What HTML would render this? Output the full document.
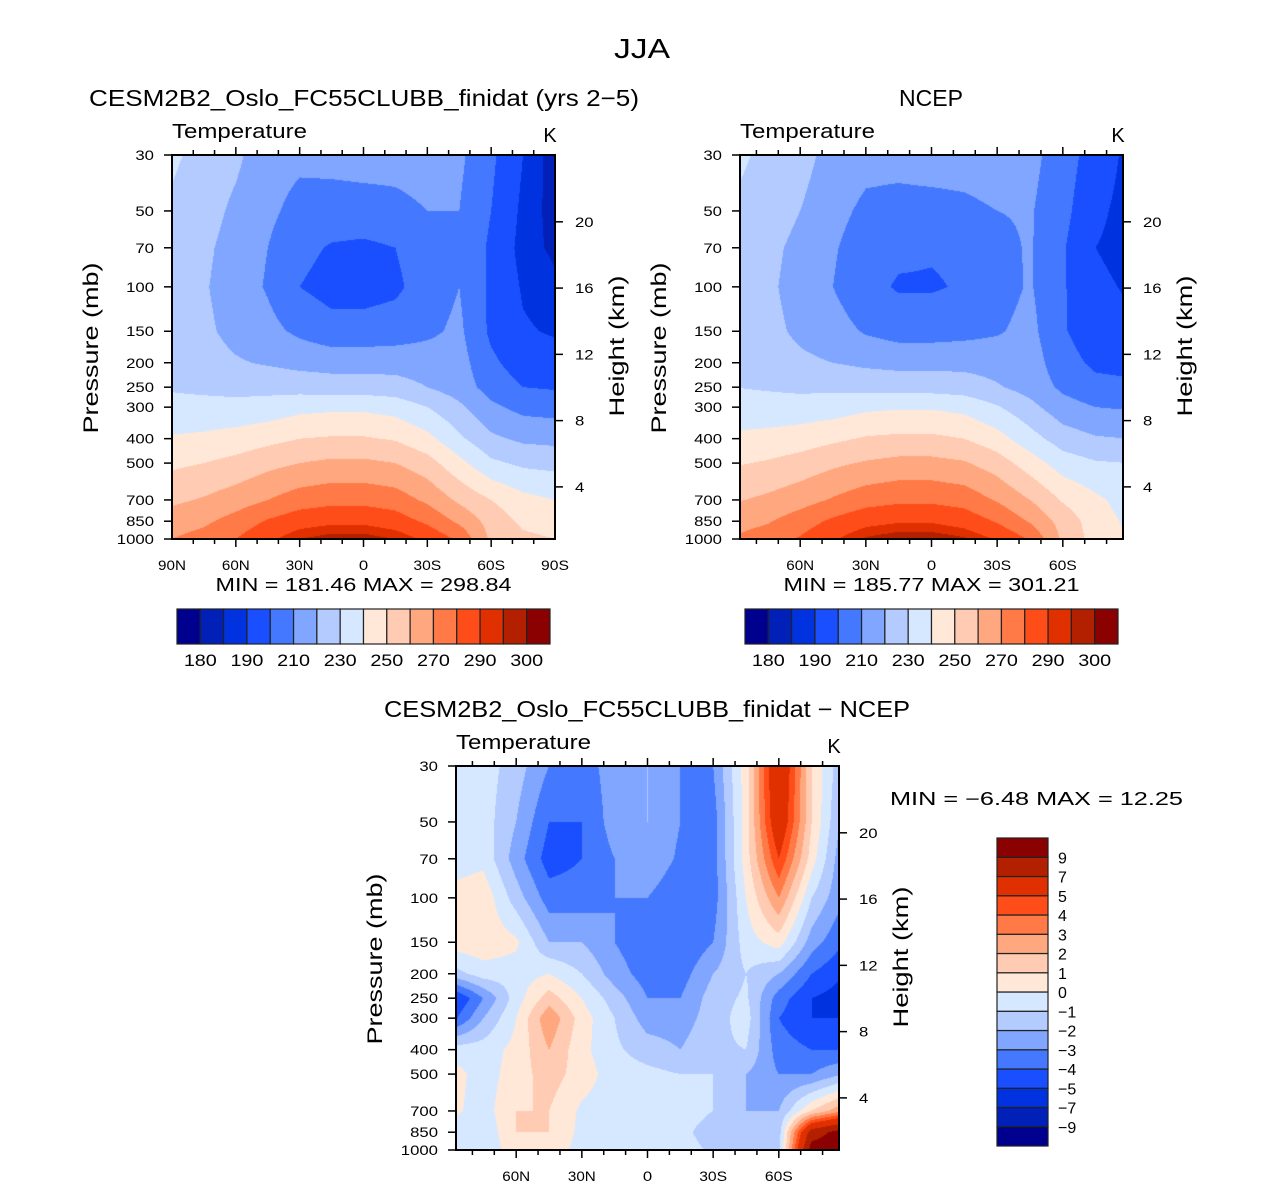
<!DOCTYPE html>
<html><head><meta charset="utf-8"><style>
html,body{margin:0;padding:0;background:#fff;width:1285px;height:1188px;overflow:hidden}
#wrap{position:relative;width:1285px;height:1188px}
canvas{position:absolute}
svg{position:absolute;left:0;top:0}
text{font-family:"Liberation Sans",sans-serif;fill:#000}
</style></head><body><div id="wrap">
<canvas id="c1" width="383" height="384" style="left:172px;top:155px"></canvas>
<canvas id="c2" width="383" height="384" style="left:740px;top:155px"></canvas>
<canvas id="c3" width="383" height="384" style="left:456px;top:766px"></canvas>
<svg id="s" width="1285" height="1188"></svg>
</div>
<script>
const lats=[90,75,60,45,30,15,0,-15,-30,-45,-60,-75,-90];
const levels=[30,50,70,100,150,200,250,300,400,500,700,850,1000];
const modelT=[
[232,226,222,214,212,213,214,214,215,212,202,190,182],
[228,224,218,212,207,206,206,207,210,210,200,188,183],
[226,222,216,210,203,199,198,200,206,210,198,187,184],
[225,221,215,209,200,196,196,198,205,210,198,189,186],
[225,222,217,213,208,204,204,205,208,212,198,191,189],
[226,224,221,219,217,216,216,216,215,214,202,195,194],
[229,228,227,227,226,225,225,224,220,215,206,200,199],
[233,233,233,234,237,238,238,236,230,222,212,207,206],
[241,242,244,247,250,251,251,249,243,232,222,218,217],
[248,250,253,257,260,262,262,260,254,243,232,228,227],
[258,261,265,270,275,277,277,275,268,258,250,243,240],
[265,268,274,281,286,288,288,285,278,268,256,248,246],
[270,274,280,288,295,298,298,295,288,278,258,252,250]];
const ncepT=[
[232,228,224,216,213,213,214,214,215,213,205,195,188],
[229,226,220,213,208,207,207,208,210,211,203,192,187],
[227,223,217,211,205,202,201,202,207,211,201,190,187],
[226,222,216,210,203,199,199,201,206,211,201,192,189],
[226,223,218,214,209,206,206,207,209,213,201,194,192],
[227,225,222,220,218,217,217,217,216,215,204,198,197],
[230,229,228,228,227,226,226,225,221,216,208,203,202],
[234,234,234,235,238,239,239,237,231,223,214,210,209],
[242,243,245,248,251,252,252,250,244,234,225,221,220],
[249,251,254,258,261,263,263,261,255,245,235,231,230],
[259,262,266,271,276,278,278,276,269,260,249,242,236],
[266,269,275,282,287,289,289,286,279,269,256,245,238],
[271,275,281,289,296,299,299,296,289,279,258,246,240]];
const diffT=[
[-0.5,-0.5,-1.5,-3,-3.5,-2.5,-2,-3,-3,0.5,7,1,-2],
[-0.5,-0.5,-2,-4,-4,-2.5,-2,-3,-3.5,0.5,6.5,1,-2.5],
[-0.5,-0.3,-2.5,-4.5,-4,-3,-2.2,-3.2,-3.5,0.5,5,0.5,-3],
[0.3,0.7,-1.5,-3.5,-3.5,-3,-3,-3.8,-3.5,0,3,-1,-3],
[0.5,0.7,0.2,-2,-2,-3,-3.8,-4,-3,-0.5,0.5,-2.5,-4],
[-1.5,-0.5,-0.5,0,-1,-2.5,-3.5,-3.5,-2,-1,-2,-4,-5],
[-5.5,-3,-0.5,1.5,0,-1.5,-3,-3,-1.5,-0.8,-3.5,-5,-5.5],
[-4.5,-2,0,2.8,0.5,-1,-2.5,-2.5,-1.5,-0.5,-4,-5,-5],
[-0.5,-0.5,0.3,2,0.3,-0.8,-1.5,-2,-1.2,-1,-3.5,-4,-4],
[0.5,-0.5,0.5,1.5,0.5,-0.5,-0.7,-1,-1,-2,-3,-3,-2],
[0.3,-0.5,1,1,-0.2,-0.5,-0.5,-0.5,-1,-2,-2,1,3],
[-0.5,-0.8,1,1,-0.3,-0.5,-0.5,-0.7,-1.5,-2,-1.5,8,10],
[-1,-1,0.8,0.8,-0.5,-0.7,-0.5,-0.5,-1.2,-1.5,-1.5,10,10]];
const tempLevels=[180,185,190,200,210,220,230,240,250,260,270,280,290,295,300];
const tempLabels=["180","190","210","230","250","270","290","300"];
const diffLevels=[-9,-7,-5,-4,-3,-2,-1,0,1,2,3,4,5,7,9];
const diffLabels=["−9","−7","−5","−4","−3","−2","−1","0","1","2","3","4","5","7","9"];
const colors=["#00008f","#0020b8","#0033df","#1a4fff","#4479ff","#80a6ff","#b3cbff","#d6e8ff","#ffe8d8","#ffcbb3","#ffa880","#ff7a47","#ff4d1a","#e03000","#b32000","#8b0000"];
const latTicks=[90,60,30,0,-30,-60,-90];
const latNames=["90N","60N","30N","0","30S","60S","90S"];
const heightTicks=[20,16,12,8,4];

const H=384,W=383,LP=Math.log(1000/30);
function yOfP(p){return H*Math.log(p/30)/LP;}
function xOfLat(lat,ext){return W/2-lat*(W/(2*ext));}
function rgb(h){return [parseInt(h.substr(1,2),16),parseInt(h.substr(3,2),16),parseInt(h.substr(5,2),16)];}
const rgbs=colors.map(rgb);
function bin(v,lv){let i=0;while(i<lv.length&&v>=lv[i])i++;return i;}
function sample(grid,lat,p){
  let li=0;while(li<lats.length-2&&lat<lats[li+1])li++;
  let ft=(lats[li]-lat)/(lats[li]-lats[li+1]);ft=Math.max(0,Math.min(1,ft));
  const lp=Math.log(p);let pi=0;while(pi<levels.length-2&&p>levels[pi+1])pi++;
  let fp=(lp-Math.log(levels[pi]))/(Math.log(levels[pi+1])-Math.log(levels[pi]));fp=Math.max(0,Math.min(1,fp));
  const a=grid[pi][li],b=grid[pi][li+1],c=grid[pi+1][li],d=grid[pi+1][li+1];
  return (a*(1-ft)+b*ft)*(1-fp)+(c*(1-ft)+d*ft)*fp;
}
function draw(id,grid,lv,ext){
  const ctx=document.getElementById(id).getContext('2d');const img=ctx.createImageData(W,H);
  for(let y=0;y<H;y++){const p=30*Math.exp((y+0.5)/H*LP);
    for(let x=0;x<W;x++){const lat=-((x+0.5)-W/2)*(2*ext/W);
      const c=rgbs[bin(sample(grid,lat,p),lv)];const k=(y*W+x)*4;
      img.data[k]=c[0];img.data[k+1]=c[1];img.data[k+2]=c[2];img.data[k+3]=255;}}
  ctx.putImageData(img,0,0);
}
draw('c1',modelT,tempLevels,90);
draw('c2',ncepT,tempLevels,87.5);
draw('c3',diffT,diffLevels,87.5);

const S=document.getElementById('s');const NS="http://www.w3.org/2000/svg";
function el(t,a,txt){const e=document.createElementNS(NS,t);for(const k in a)e.setAttribute(k,a[k]);if(txt!==undefined)e.textContent=txt;S.appendChild(e);return e;}
function txt(x,y,s,size,anchor,name,len){const a={x:x,y:y,'font-size':size,'text-anchor':anchor||'start'};
if(len){a.textLength=len;a.lengthAdjust='spacingAndGlyphs';}
const e=el('text',a,s);

return e;}
function line(x1,y1,x2,y2,w){return el('line',{x1:x1,y1:y1,x2:x2,y2:y2,stroke:'#000','stroke-width':w||1.5});}
function pOfH(h){return 1138*Math.exp(-h/6.61);}

txt(642,58,"JJA",28,'middle','figure-title',56);
function panel(x0,y0,ext,title,titleX,tlen,mm,mmlen,prefix,ty){
  txt(titleX,ty,title,23,'middle',prefix+'-title',tlen);
  const r=el('rect',{x:x0,y:y0,width:W,height:H,fill:'none',stroke:'#000','stroke-width':2});
  
  
  txt(x0,y0-17,"Temperature",20,'start',prefix+'-variable-label',135);
  txt(x0+W-5,y0-13,"K",20,'middle',prefix+'-units-label');
  for(let l=-80;l<=80;l+=10){if(Math.abs(l)>ext)continue;const x=x0+xOfLat(l,ext);const maj=l%30===0;
    line(x,y0,x,y0-(maj?8:5));line(x,y0+H,x,y0+H+(maj?8:5));}
  latTicks.forEach((l,i)=>{if(Math.abs(l)>ext)return;const x=x0+xOfLat(l,ext);
    txt(x,y0+H+31,latNames[i],14,'middle',prefix+'-lat-label',latNames[i].length*9.3);});
  levels.forEach(p=>{const y=y0+yOfP(p);line(x0,y,x0-8,y);const s=String(p);txt(x0-18,y+5,s,14,'end',prefix+'-pressure-label',s.length*9.3);});
  heightTicks.forEach(h=>{const y=y0+yOfP(pOfH(h));line(x0+W,y,x0+W+8,y);const s=String(h);
    txt(x0+W+20,y+5,s,14,'start',prefix+'-height-label',s.length*9.3);});
  const a=el('text',{x:0,y:0,'font-size':21,'text-anchor':'middle',textLength:171,lengthAdjust:'spacingAndGlyphs',transform:`translate(${x0-74},${y0+H/2+1}) rotate(-90)`},"Pressure  (mb)");
  
  const b=el('text',{x:0,y:0,'font-size':21,'text-anchor':'middle',textLength:141,lengthAdjust:'spacingAndGlyphs',transform:`translate(${x0+W+69},${y0+H/2-1}) rotate(-90)`},"Height  (km)");
  
  if(mm)txt(x0+W/2,y0+H+52,mm,18,'middle',prefix+'-min-max',mmlen);
}
panel(172,155,90,"CESM2B2_Oslo_FC55CLUBB_finidat (yrs 2−5)",364,550,"MIN  =  181.46    MAX  =  298.84",296,'model',106);
panel(740,155,87.5,"NCEP",931,64,"MIN  =  185.77    MAX  =  301.21",296,'ncep',106);
panel(456,766,87.5,"CESM2B2_Oslo_FC55CLUBB_finidat  −  NCEP",647,526,null,0,'diff',717);
txt(890,805,"MIN  =    −6.48    MAX  =    12.25",18,'start','diff-min-max',293);

function hbar(x0,y0,w,h,prefix){const bw=w/colors.length;
  colors.forEach((c,i)=>{const r=el('rect',{x:x0+i*bw,y:y0,width:bw,height:h,fill:c,stroke:'#222','stroke-width':1.2});
    });
  tempLabels.forEach((s,i)=>{txt(x0+(2*i+1)*bw,y0+h+22,s,17,'middle',prefix+'-colorbar-label',33);});}
hbar(177,609,373,35,'model');
hbar(745,609,373,35,'ncep');
(function(){const x0=997,y0=838,w=51,h=308,bh=h/colors.length;
  colors.forEach((c,i)=>{const r=el('rect',{x:x0,y:y0+h-(i+1)*bh,width:w,height:bh,fill:c,stroke:'#222','stroke-width':1.2});
    });
  diffLabels.forEach((s,i)=>{txt(x0+w+10,y0+h-(i+1)*bh+6,s,16,'start','diff-colorbar-label');});})();
</script></body></html>
